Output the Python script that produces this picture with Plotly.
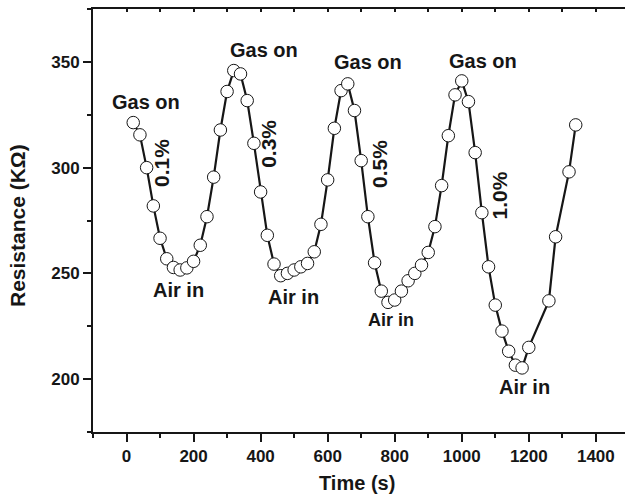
import plotly.graph_objects as go

# ---- data ----
time_s = [20, 40, 60, 80, 100, 120, 140, 160, 180, 200,
          220, 240, 260, 280, 300, 320, 340, 360, 380, 400,
          420, 440, 460, 480, 500, 520, 540, 560, 580, 600,
          620, 640, 660, 680, 700, 720, 740, 760, 780, 800,
          820, 840, 860, 880, 900, 920, 940, 960, 980, 1000,
          1020, 1040, 1060, 1080, 1100, 1120, 1140, 1160, 1180, 1200,
          1260, 1280, 1320, 1340]
resistance_kohm = [321.3, 315.5, 300.0, 281.9, 266.6, 256.9, 252.8, 251.6, 252.6, 255.7,
                   263.3, 276.8, 295.5, 317.8, 336.0, 345.9, 344.3, 331.7, 311.5, 288.5,
                   268.0, 254.4, 248.9, 250.0, 251.6, 253.1, 254.7, 260.2, 273.2, 294.2,
                   318.6, 336.4, 339.6, 327.0, 303.3, 276.8, 255.0, 241.6, 236.3, 237.4,
                   241.6, 246.5, 250.0, 253.9, 259.9, 272.1, 291.5, 315.1, 334.4, 341.0,
                   331.2, 307.1, 278.7, 253.1, 235.0, 222.7, 213.2, 206.6, 205.3, 215.0,
                   237.0, 267.3, 298.0, 320.2]

label_texts = ["Gas on", "Gas on", "Gas on", "Gas on",
               "Air in", "Air in", "Air in", "Air in",
               "0.1%", "0.3%", "0.5%", "1.0%"]

x_tick_labels = ["0", "200", "400", "600", "800", "1000", "1200", "1400"]
y_tick_labels = ["200", "250", "300", "350"]

# ---- layout of the labels (positions in data units, angle, size) ----
label_layout = [
    (57, 331.2, 0, 20), (410, 355.5, 0, 20), (721, 349.9, 0, 20), (1064, 350.6, 0, 20),
    (154, 242.0, 0, 20), (498, 238.8, 0, 20), (789, 228.0, 0, 18), (1186, 196.3, 0, 20),
    (104.5, 302.0, -90, 21), (424.8, 311.2, -90, 21), (753, 301.7, -90, 21), (1112.8, 286.6, -90, 21),
]

INK = "#161616"
FONT = "Liberation Sans, Arial, Helvetica, sans-serif"

fig = go.Figure()
fig.add_trace(go.Scatter(
    x=time_s, y=resistance_kohm, mode="lines+markers",
    line=dict(color=INK, width=2.2),
    marker=dict(size=12.5, color="white", line=dict(color=INK, width=1)),
    hoverinfo="x+y",
))

annotations = []
for txt, (ax, ay, ang, sz) in zip(label_texts, label_layout):
    annotations.append(dict(
        x=ax, y=ay, xref="x", yref="y", text=txt, showarrow=False,
        textangle=ang, font=dict(family=FONT, size=sz, color=INK, weight="bold"),
        xanchor="center", yanchor="middle",
    ))
annotations.append(dict(
    x=0.4955, y=-0.121, xref="paper", yref="paper", text="Time (s)", showarrow=False,
    font=dict(family=FONT, size=20, color=INK, weight="bold"),
    xanchor="center", yanchor="middle",
))
annotations.append(dict(
    x=-0.142, y=0.488, xref="paper", yref="paper", text="Resistance (KΩ)", showarrow=False,
    textangle=-90, font=dict(family=FONT, size=21, color=INK, weight="bold"),
    xanchor="center", yanchor="middle",
))

x_range = [-100, 1487]
fig.update_layout(
    width=625, height=496,
    margin=dict(l=93, r=0, t=9, b=64, pad=0),
    paper_bgcolor="white", plot_bgcolor="white",
    showlegend=False,
    font=dict(family=FONT, color=INK),
    annotations=annotations,
    xaxis=dict(
        range=x_range, tickmode="array",
        tickvals=[int(v) for v in x_tick_labels], ticktext=x_tick_labels,
        ticks="outside", ticklen=8, tickwidth=1.5, tickcolor=INK,
        showline=True, linewidth=2, linecolor=INK,
        showgrid=False, zeroline=False,
        tickfont=dict(family=FONT, size=17, color=INK, weight="bold"),
        minor=dict(dtick=100, tick0=0, ticks="outside", ticklen=4, tickwidth=1.5,
                   tickcolor=INK, showgrid=False),
    ),
    xaxis2=dict(
        range=x_range, overlaying="x", side="top", anchor="y",
        showline=True, linewidth=2, linecolor=INK,
        ticks="inside", ticklen=3, tickwidth=1.5, tickcolor=INK,
        tick0=0, dtick=100, showticklabels=False,
        showgrid=False, zeroline=False,
    ),
    yaxis=dict(
        range=[175, 375], tickmode="array",
        tickvals=[int(v) for v in y_tick_labels], ticktext=y_tick_labels,
        ticks="outside", ticklen=8, tickwidth=1.5, tickcolor=INK,
        showline=True, linewidth=2, linecolor=INK,
        showgrid=False, zeroline=False,
        tickfont=dict(family=FONT, size=17, color=INK, weight="bold"),
        minor=dict(dtick=25, tick0=0, ticks="outside", ticklen=4, tickwidth=1.5,
                   tickcolor=INK, showgrid=False),
    ),
)

fig.add_trace(go.Scatter(x=[None], y=[None], xaxis="x2", yaxis="y",
                         showlegend=False, hoverinfo="skip"))

fig.write_html("out.html")
